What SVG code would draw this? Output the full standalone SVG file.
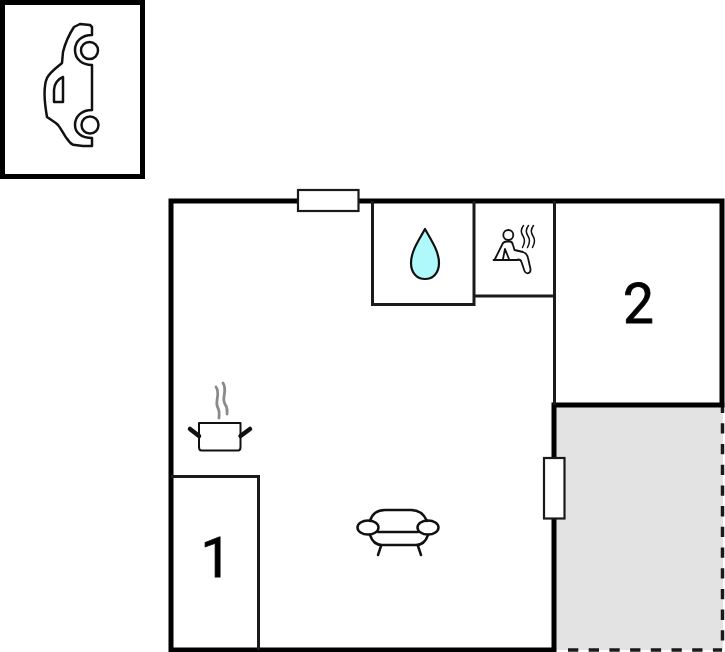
<svg xmlns="http://www.w3.org/2000/svg" width="725" height="652" viewBox="0 0 725 652">
<style>
.wall{fill:none;stroke:#000;stroke-width:5}
.thin{fill:none;stroke:#1a1a1a;stroke-width:3}
.icon{fill:none;stroke:#111;stroke-width:2.500;stroke-linecap:round;stroke-linejoin:round}
.win{fill:#fff;stroke:#1a1a1a;stroke-width:2.200}
.dash{fill:none;stroke:#1a1a1a;stroke-width:3.500;stroke-dasharray:10.300 10.400}
.num{font-family:Roboto,"Liberation Sans",Arial,sans-serif;font-size:55px;fill:#000;stroke:#000;stroke-width:0.800;text-anchor:middle}
</style>
<rect width="725" height="652" fill="#fff"/>
<g id="terrace">
<rect x="555" y="405" width="168" height="245" fill="#e3e3e3"/>
<path d="M722.500 402.600V650" class="dash"/>
<path d="M568 650H722" class="dash"/>
</g>
<g id="garage">
<rect x="2.500" y="2.500" width="140" height="174" class="wall"/>
<g id="car" class="icon">
<path d="M92 35V27L90 25L80 24L74 27C70 33 65 44 63 52L62 63C56 68 50 72 47 78C44 85 44 100 47 117C51 120 55 122 58 125C62 130 65 137 68 140C70 143 72 145 75 145L83 146H92V138C82 138 75 133 75 125C75 116 82 110 92 110V65C82 65 75 59 75 50C75 41 82 35 92 35Z"/>
<circle cx="89.500" cy="50.500" r="8.500"/>
<circle cx="90" cy="125" r="8.500"/>
<path d="M63 77V102H54V90C54 84 58 79 63 77Z"/>
</g>
</g>
<g id="walls">
<path d="M171 201H722V405H554V650H171Z" class="wall"/>
</g>
<g id="room-bath">
<path d="M372.500 201V304.500H474V201" class="thin"/>
<path d="M425 229C419 240 411 251 411 263C411 273 417 279 425 279C433 279 439 273 439 263C439 251 431 240 425 229Z" fill="#aff9fb" stroke="#111" stroke-width="2.200" stroke-linejoin="round"/>
</g>
<g id="room-sauna">
<path d="M474 296H554.500M554.500 201V405" class="thin"/>
<g class="icon" style="stroke-width:1.800">
<circle cx="508.300" cy="235" r="5"/>
<path d="M493.500 260H518M495 259L502 245C503 242 505 241.500 507 241.500H510C512 241.500 512.500 243 513 245L514.500 250L523 252C526 253 527.500 255 528 258L530.500 269C531 274 526 274.500 524.500 271L521.500 262C521 260 519.500 259.500 518 259.500M503 259L505 249L509 259"/>
<path d="M523.500 225.500C520 230 521 233 523 236C525 239 525 243 522.500 247.500M528.500 225.500C525 230 526 233 528 236C530 239 530 243 527.500 247.500M533.500 225.500C530 230 531 233 533 236C535 239 535 243 532.500 247.500" style="stroke-width:1.500"/>
</g>
</g>
<g id="room-1">
<path d="M171 476.500H258.500V650" class="thin"/>
<text x="216" y="577" class="num">1</text>
</g>
<g id="room-2">
<text x="638.500" y="323" class="num">2</text>
</g>
<g id="kitchen">
<path d="M216 387C221 394 214 402 218 408C220 412 219 414 219 418M223 383C228 391 221 398 225 404C228 408 227 411 227 414" fill="none" stroke="#8a8a8a" stroke-width="2.800" stroke-linecap="round"/>
<path d="M199 423H240.500V447C240.500 449 239.500 450.500 238 450.500H201.500C200 450.500 199 449 199 447Z" class="icon" style="stroke-width:2"/>
<path d="M199 436L190 429M240.500 436L250 429" fill="none" stroke="#111" stroke-width="4.500" stroke-linecap="round"/>
</g>
<g id="sofa" class="icon">
<path d="M370 521C372 514 377 510 385 510H411C419 510 424 514 427 521"/>
<path d="M378 532H418"/>
<path d="M370 535C372 541 376 545 382 545H416C422 545 426 541 428 535"/>
<ellipse cx="368" cy="527.500" rx="10.500" ry="7"/>
<ellipse cx="428" cy="527.500" rx="10.500" ry="7"/>
<path d="M381 546L378 555M418 546L421 555"/>
</g>
<g id="windows">
<rect x="298" y="190" width="60.500" height="21" class="win"/>
<rect x="544" y="458" width="20.500" height="60.500" class="win"/>
</g>
</svg>
